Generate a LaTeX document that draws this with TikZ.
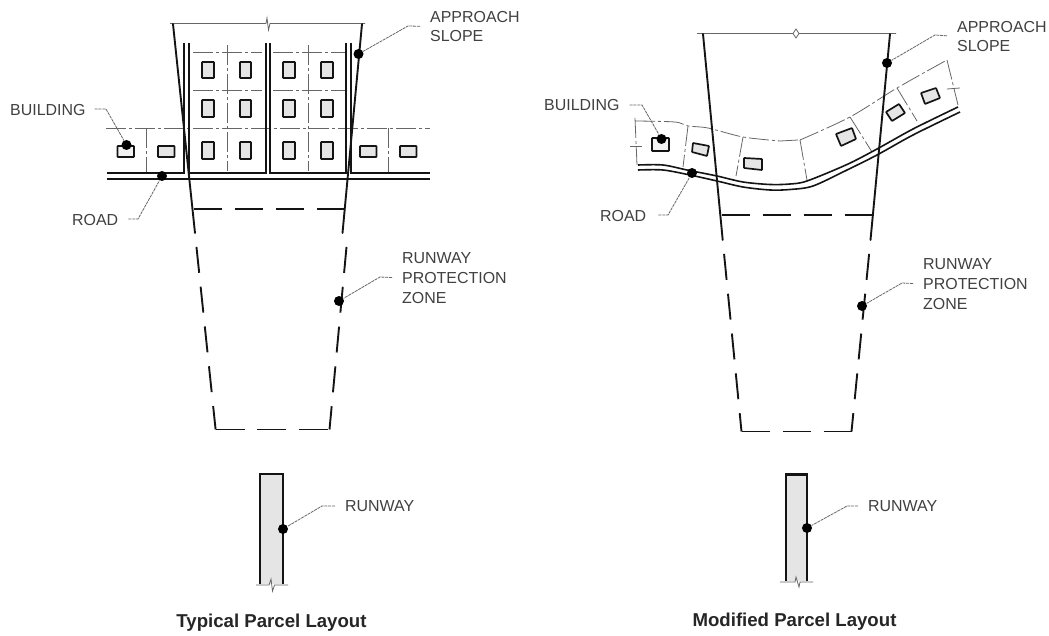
\documentclass[tikz,border=0pt]{standalone}
\usepackage{fontspec}
\setmainfont{Liberation Sans}
\definecolor{ink}{gray}{0.08}
\definecolor{txt}{gray}{0.25}
\tikzset{
  bound/.style={draw=ink,line width=1.9pt,line cap=round},
  rpzdash/.style={draw=ink,line width=1.9pt,dash pattern=on 26bp off 14bp,dash phase=26bp},
  rpzh/.style={draw=ink,line width=1.6pt,dash pattern=on 28bp off 13bp},
  roadline/.style={draw=ink,line width=1.6pt},
  lotline/.style={draw=black!60,line width=0.8pt,dash pattern=on 20bp off 3bp on 3bp off 3bp},
  thinline/.style={draw=black!60,line width=0.8pt},
  bldg/.style={draw=ink,line width=1.7pt,fill=black!10,rounded corners=0.6pt},
  rway/.style={draw=ink,line width=2pt,fill=black!10},
  dot/.style={circle,fill=black,inner sep=0pt,minimum size=10bp},
  lbl/.style={anchor=west,inner sep=0pt,align=left,text=txt,font=\fontsize{16}{20}\selectfont},
  ttl/.style={inner sep=0pt,text=black!85,font=\bfseries\fontsize{18.7}{20}\selectfont},
  leader/.style={draw=black!60,line width=0.8pt,dash pattern=on 3bp off 0.8bp,shorten <=10bp}
}
\begin{document}
\begin{tikzpicture}[x=1bp,y=-1bp]
\useasboundingbox (0,0) rectangle (1049,636);
\fill[white] (0,0) rectangle (1049,636);

%%%% LEFT: lots
\foreach \y in {52,90.5}{
  \draw[lotline] (193,\y) -- (262,\y);
  \draw[lotline] (273,\y) -- (345,\y);
}
\draw[lotline] (106,128.3) -- (430,128.3);
\foreach \x in {227,308}{\draw[lotline] (\x,45) -- (\x,171);}
\foreach \x in {146,388}{\draw[lotline] (\x,128.3) -- (\x,172);}
\foreach \x/\w in {202/12,240/11,283/12,321/12}{
  \foreach \y/\h in {62/16,100/17,142/17}{
    \draw[bldg] (\x,\y) rectangle ++(\w,\h);
  }
}
\foreach \x in {158,360,400}{\draw[bldg] (\x,146) rectangle ++(16.5,11);}
\draw[bldg,fill=black!5] (117.5,146) rectangle (134,157);
% road and parcels
\draw[roadline] (107,173) -- (184,173) -- (184,43);
\draw[roadline] (189,43) -- (189,173) -- (266,173) -- (266,43);
\draw[roadline] (270,43) -- (270,173) -- (346,173) -- (346,43);
\draw[roadline] (351,43) -- (351,173) -- (430,173);
\draw[roadline] (107,179) -- (430,179);
% approach slope
\draw[thinline] (170,23.5) -- (266,23.5) -- (267,18) -- (268.5,30) -- (270,23.5) -- (365,23.5);
\draw[bound] (173,24) -- (195,233);
\draw[bound] (362,24) -- (342.5,233);
% runway protection zone
\draw[rpzh] (194,209) -- (348,209);
\draw[rpzdash] (195,233) -- (215.6,429.5);
\draw[rpzdash] (347.8,233) -- (329.5,429.5);
\draw[rpzh,dash pattern=on 29bp off 12.5bp] (215.6,429.5) -- (329.5,429.5);
% runway
\draw[rway] (260,584) -- (260,474) -- (283,474) -- (283,584);
\draw[thinline] (256,585) -- (269,585) -- (271,579) -- (272.5,591) -- (274.5,585) -- (288,585);

%%%% RIGHT: lots
\draw[lotline] plot[smooth] coordinates {(635,121) (675,122) (688,126) (708,128) (743,137) (780,141)};
\draw[thinline] (780,141) -- (798,140);
\draw[lotline] plot[smooth] coordinates {(800,140) (850,117) (897,88) (947,60)};
\draw[lotline] (635,118) -- (637,165);
\draw[thinline] (630,146) -- (642,146);
\draw[lotline] (688,126) -- (683,167);
\draw[lotline] (743,137) -- (736,176);
\draw[lotline] (800,140) -- (807,180);
\draw[lotline] (850,117) -- (872,152);
\draw[lotline] (897,88) -- (917,121);
\draw[lotline] (947,60) -- (958,105);
\draw[thinline] (947,89) -- (960,88);
\draw[bldg,fill=black!5] (652,138) rectangle (669,151);
\draw[bldg] (693,143) -- (709,146) -- (707,156) -- (692,152) -- cycle;
\draw[bldg] (744,158) -- (762,159) -- (762,170) -- (744,168) -- cycle;
\draw[bldg] (836,134) -- (852,128) -- (856,139) -- (841,146) -- cycle;
\draw[bldg] (886,112) -- (899,104) -- (905,113) -- (892,121) -- cycle;
\draw[bldg] (921,93) -- (936,88) -- (940,98) -- (925,104) -- cycle;
% road
\draw[roadline] plot[smooth] coordinates {(638,165) (663,165) (687,170) (717,176) (743,182) (770,184.5) (790,184) (807,181) (847,164.5) (877,149) (913,129) (958,107)};
\draw[roadline] plot[smooth] coordinates {(638,170) (663,170) (690,175) (717,181) (743,187) (770,190) (790,189.5) (813,186) (847,170) (877,155) (913,135) (960,112)};
% approach slope
\draw[thinline] (697,33.5) -- (793,33.5) -- (796,29) -- (799,33.5) -- (896,33.5);
\draw[thinline] (793,33.5) -- (796,38) -- (799,33.5);
\draw[bound] (703,34) -- (722.7,240);
\draw[bound] (890,34) -- (870.5,240);
% runway protection zone
\draw[rpzh] (721.5,215) -- (872,215);
\draw[rpzdash] (722.7,240) -- (741.5,431.5);
\draw[rpzdash] (870.5,240) -- (851.5,431.5);
\draw[rpzh,dash pattern=on 28bp off 13bp] (741.5,431.5) -- (851.5,431.5);
% runway
\draw[rway] (786,581) -- (786,475) -- (807,475) -- (807,581);
\draw[draw=ink,line width=3pt] (785,474.5) -- (808,474.5);
\draw[thinline] (780,582) -- (795,582) -- (796,577) -- (799,587) -- (800,582) -- (813,582);

%%%% Dots
\node[dot] (ldA) at (358.5,54) {};
\node[dot] (ldB) at (126.5,145) {};
\node[dot] (ldC) at (162,176) {};
\node[dot] (ldD) at (339,301) {};
\node[dot] (ldE) at (283,529) {};
\node[dot] (rdA) at (887,63) {};
\node[dot] (rdB) at (661.5,139) {};
\node[dot] (rdC) at (692,173) {};
\node[dot] (rdD) at (862,306) {};
\node[dot] (rdE) at (807,528) {};

%%%% Labels
\node[lbl] (llA) at (430,26.5) {APPROACH\\SLOPE};
\node[lbl] (llB) at (10,110) {BUILDING};
\node[lbl] (llC) at (72,220) {ROAD};
\node[lbl] (llD) at (402,278) {RUNWAY\\PROTECTION\\ZONE};
\node[lbl] (llE) at (345,506) {RUNWAY};
\node[lbl] (rlA) at (957,36.5) {APPROACH\\SLOPE};
\node[lbl] (rlB) at (544,105) {BUILDING};
\node[lbl] (rlC) at (600,216) {ROAD};
\node[lbl] (rlD) at (923,284) {RUNWAY\\PROTECTION\\ZONE};
\node[lbl] (rlE) at (868,506) {RUNWAY};
\node[ttl] (tl) at (271.5,623) {Typical Parcel Layout};
\node[ttl] (tr) at (794.5,622) {Modified Parcel Layout};

%%%% Elbows
\coordinate (leA) at (408,26);
\coordinate (leB) at (106,109);
\coordinate (leC) at (138,219);
\coordinate (leD) at (380,277);
\coordinate (leE) at (322,506);
\coordinate (reA) at (935,35);
\coordinate (reB) at (642,105);
\coordinate (reC) at (668,215);
\coordinate (reD) at (902,283);
\coordinate (reE) at (847,506);

%%%% Leaders
\draw[leader] (llA.west) -- (leA) -- (ldA);
\draw[leader] (llD.west) -- (leD) -- (ldD);
\draw[leader] (llE.west) -- (leE) -- (ldE);
\draw[leader] (rlA.west) -- (reA) -- (rdA);
\draw[leader] (rlD.west) -- (reD) -- (rdD);
\draw[leader] (rlE.west) -- (reE) -- (rdE);
\draw[leader,shorten <=0pt] (llB.east) ++(9,-1) -- (leB) -- (ldB);
\draw[leader,shorten <=0pt] (llC.east) ++(10,-1) -- (leC) -- (ldC);
\draw[leader,shorten <=0pt] (rlB.east) ++(10,0) -- (reB) -- (rdB);
\draw[leader,shorten <=0pt] (rlC.east) ++(12,-1) -- (reC) -- (rdC);
\end{tikzpicture}
\end{document}
